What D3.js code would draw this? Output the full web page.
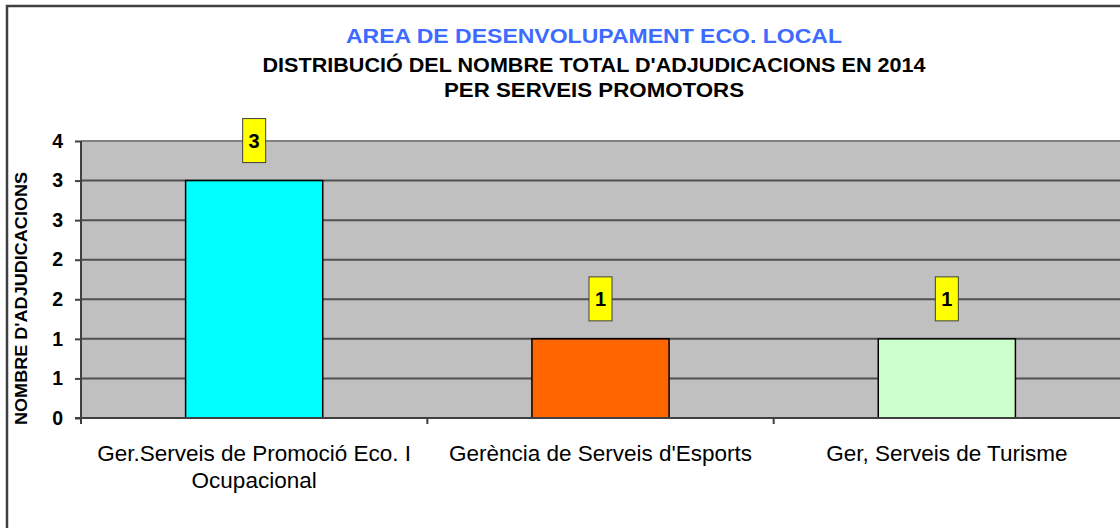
<!DOCTYPE html>
<html>
<head>
<meta charset="utf-8">
<script src="https://cdn.jsdelivr.net/npm/d3@7/dist/d3.min.js"></script>
<style>
  body { margin: 0; background: #fff; }
  svg { display: block; font-family: Arial, 'Liberation Sans', sans-serif; }
</style>
</head>
<body>
<svg id="chart" width="1120" height="528"></svg>
<script>
// dades
const categories = ['Ger.Serveis de Promoció Eco. I Ocupacional', 'Gerència de Serveis d\'Esports', 'Ger, Serveis de Turisme'];
const categoryLines = [['Ger.Serveis de Promoció Eco. I', 'Ocupacional'], ['Gerència de Serveis d\'Esports'], ['Ger, Serveis de Turisme']];
const values = [3, 1, 1];
const barColors = ['#00ffff', '#ff6600', '#ccffcc'];
const yTicks = [0, 0.5, 1, 1.5, 2, 2.5, 3, 3.5];
const titleLines = ['AREA DE DESENVOLUPAMENT ECO. LOCAL', 'DISTRIBUCIÓ DEL NOMBRE TOTAL D\'ADJUDICACIONS EN 2014', 'PER SERVEIS PROMOTORS'];
const yTitle = 'NOMBRE D\'ADJUDICACIONS';

const svg = d3.select('#chart');
const margin = { top: 141, right: 0, bottom: 110, left: 81 };
const width = +svg.attr('width') - margin.left - margin.right;
const height = +svg.attr('height') - margin.top - margin.bottom;

// marc exterior
svg.append('rect')
  .attr('x', 7).attr('y', 6)
  .attr('width', 1140).attr('height', 560)
  .attr('fill', 'none')
  .attr('stroke', '#404040')
  .attr('stroke-width', 2.5);

// titols
const titleSizes = [20.5, 19.5, 19.5];
const titleY = [43, 72, 97];
const titleLen = [496, 663, 300];
titleLines.forEach((t, i) => {
  svg.append('text')
    .attr('x', 594)
    .attr('y', titleY[i])
    .attr('text-anchor', 'middle')
    .attr('font-weight', 'bold')
    .attr('font-size', titleSizes[i])
    .attr('fill', i === 0 ? '#3d6bff' : '#000')
    .attr('textLength', titleLen[i])
    .attr('lengthAdjust', 'spacingAndGlyphs')
    .text(t);
});

const g = svg.append('g').attr('transform', `translate(${margin.left},${margin.top})`);

const x = d3.scaleBand()
  .domain(categories)
  .range([0, width])
  .paddingInner(0.604)
  .paddingOuter(0.302);

const xOuter = d3.scaleBand()
  .domain(categories)
  .range([0, width]);

const y = d3.scaleLinear()
  .domain([0, 3.5])
  .range([height, 0]);

// fons
g.append('rect')
  .attr('width', width)
  .attr('height', height)
  .attr('fill', '#c0c0c0');

// linies de graella
g.selectAll('.grid')
  .data(yTicks.filter(d => d > 0 && d < 3.5))
  .enter().append('line')
  .attr('x1', 0).attr('x2', width)
  .attr('y1', d => y(d)).attr('y2', d => y(d))
  .attr('stroke', '#505050')
  .attr('stroke-width', 2);

g.append('line')
  .attr('x1', 0).attr('x2', width)
  .attr('y1', 0).attr('y2', 0)
  .attr('stroke', '#808080')
  .attr('stroke-width', 2);

// barres
g.selectAll('.bar')
  .data(values)
  .enter().append('rect')
  .attr('class', 'bar')
  .attr('x', (d, i) => x(categories[i]))
  .attr('width', x.bandwidth())
  .attr('y', d => y(d))
  .attr('height', d => height - y(d))
  .attr('fill', (d, i) => barColors[i])
  .attr('stroke', '#000')
  .attr('stroke-width', 1.5);

// eix y
const yAxis = d3.axisLeft(y)
  .tickValues(yTicks)
  .tickSize(6)
  .tickFormat(d => d3.format('.0f')(Math.round(d)));

const ya = g.append('g').call(yAxis);
ya.selectAll('.tick line').attr('stroke', '#404040').attr('stroke-width', 2);
ya.selectAll('.tick text')
  .attr('x', -18)
  .attr('font-size', 19.5)
  .attr('font-weight', 'bold')
  .attr('font-family', 'Arial, Liberation Sans, sans-serif')
  .attr('fill', '#000');
ya.select('.domain')
  .attr('stroke', '#404040')
  .attr('stroke-width', 2)
  .attr('d', `M0,0V${height + 6}`);

// eix x
g.append('line')
  .attr('x1', -6).attr('x2', width)
  .attr('y1', height).attr('y2', height)
  .attr('stroke', '#404040')
  .attr('stroke-width', 2);

g.selectAll('.xtick')
  .data(categories.slice(1))
  .enter().append('line')
  .attr('x1', d => xOuter(d)).attr('x2', d => xOuter(d))
  .attr('y1', height).attr('y2', height + 6)
  .attr('stroke', '#404040')
  .attr('stroke-width', 2);

categoryLines.forEach((lines, i) => {
  const t = g.append('text')
    .attr('x', x(categories[i]) + x.bandwidth() / 2)
    .attr('y', height + 43)
    .attr('text-anchor', 'middle')
    .attr('font-size', 22.5)
    .attr('fill', '#000');
  lines.forEach((l, j) => {
    t.append('tspan')
      .attr('x', x(categories[i]) + x.bandwidth() / 2)
      .attr('dy', j === 0 ? 0 : 27)
      .text(l);
  });
});

// etiquetes de valor
const lbl = g.selectAll('.lbl')
  .data(values)
  .enter().append('g')
  .attr('transform', (d, i) => `translate(${x(categories[i]) + x.bandwidth() / 2},${y(d) - 40})`);

lbl.append('rect')
  .attr('x', -11.5).attr('y', -22)
  .attr('width', 23).attr('height', 44)
  .attr('fill', '#ffff00')
  .attr('stroke', '#404040')
  .attr('stroke-width', 1);

lbl.append('text')
  .attr('text-anchor', 'middle')
  .attr('dy', '0.36em')
  .attr('font-size', 20)
  .attr('font-weight', 'bold')
  .text(d => d);

// titol eix y
svg.append('text')
  .attr('transform', `translate(27,298.5) rotate(-90)`)
  .attr('text-anchor', 'middle')
  .attr('font-size', 17)
  .attr('font-weight', 'bold')
  .attr('textLength', 253)
  .attr('lengthAdjust', 'spacingAndGlyphs')
  .text(yTitle);
</script>
</body>
</html>
